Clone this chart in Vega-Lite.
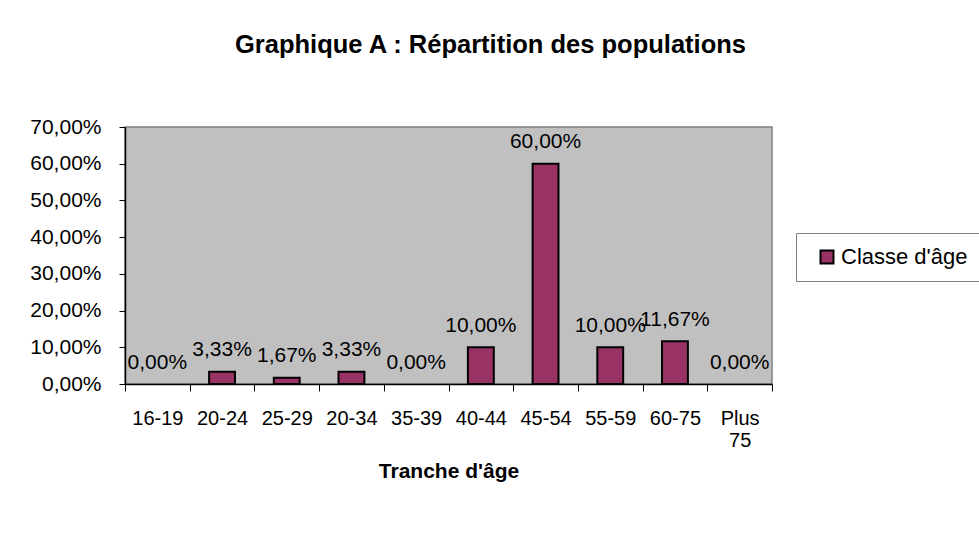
{
  "$schema": "https://vega.github.io/schema/vega-lite/v6.json",
  "width": 647,
  "height": 257,
  "autosize": {"type": "none"},
  "padding": {"left": 125, "top": 127, "right": 207, "bottom": 156},
  "background": "white",
  "config": {
    "locale": {"number": {"decimal": ",", "thousands": " ", "grouping": [3], "currency": ["", " €"]}},
    "font": "Liberation Sans",
    "view": {"fill": "#C0C0C0", "stroke": "#808080", "strokeWidth": 1.5}
  },
  "title": {
    "text": "Graphique A : Répartition des populations",
    "font": "Liberation Sans",
    "fontSize": 25.5,
    "fontWeight": "bold",
    "color": "black",
    "anchor": "middle",
    "frame": "group",
    "baseline": "alphabetic",
    "dx": 42,
    "offset": 38
  },
  "data": {
    "values": [
      {"tranche": "16-19", "value": 0},
      {"tranche": "20-24", "value": 0.0333},
      {"tranche": "25-29", "value": 0.0167},
      {"tranche": "20-34", "value": 0.0333},
      {"tranche": "35-39", "value": 0},
      {"tranche": "40-44", "value": 0.1},
      {"tranche": "45-54", "value": 0.6},
      {"tranche": "55-59", "value": 0.1},
      {"tranche": "60-75", "value": 0.1167},
      {"tranche": "Plus 75", "value": 0}
    ]
  },
  "encoding": {
    "x": {
      "field": "tranche",
      "type": "nominal",
      "sort": ["16-19", "20-24", "25-29", "20-34", "35-39", "40-44", "45-54", "55-59", "60-75", "Plus 75"],
      "scale": {
        "domain": ["16-19", "20-24", "25-29", "20-34", "35-39", "40-44", "45-54", "55-59", "60-75", "Plus 75"],
        "paddingInner": 0,
        "paddingOuter": 0
      },
      "axis": {
        "title": "Tranche d'âge",
        "titleFont": "Liberation Sans",
        "titleFontSize": 21,
        "titleFontWeight": "bold",
        "titleColor": "black",
        "titlePadding": 10,
        "labelAngle": 0,
        "labelFont": "Liberation Sans",
        "labelFontSize": 20,
        "labelColor": "black",
        "labelPadding": 17,
        "labelOverlap": false,
        "labelBound": false,
        "labelLineHeight": 22,
        "labelExpr": "datum.value == 'Plus 75' ? ['Plus', '75'] : datum.value",
        "tickBand": "extent",
        "tickSize": 7,
        "tickColor": "black",
        "domainColor": "black",
        "domainWidth": 1.5,
        "grid": false
      }
    },
    "y": {
      "field": "value",
      "type": "quantitative",
      "scale": {"domain": [0, 0.7], "nice": false},
      "axis": {
        "title": null,
        "format": ".2%",
        "values": [0, 0.1, 0.2, 0.3, 0.4, 0.5, 0.6, 0.7],
        "grid": false,
        "labelFont": "Liberation Sans",
        "labelFontSize": 21,
        "labelColor": "black",
        "labelPadding": 18,
        "tickSize": 6,
        "tickColor": "black",
        "domainColor": "black",
        "domainWidth": 1.5
      }
    }
  },
  "layer": [
    {
      "transform": [{"filter": "datum.value > 0"}],
      "mark": {"type": "bar", "width": {"band": 0.4}, "stroke": "black", "strokeWidth": 2, "opacity": 1},
      "encoding": {
        "color": {
          "datum": "Classe d'âge",
          "scale": {"range": ["#993366"]},
          "legend": {
            "title": null,
            "orient": "none",
            "legendX": 671,
            "legendY": 106,
            "strokeColor": "#808080",
            "fillColor": "white",
            "padding": 13,
            "symbolType": "square",
            "symbolSize": 169,
            "symbolStrokeColor": "black",
            "symbolStrokeWidth": 2,
            "symbolOpacity": 1,
            "symbolOffset": 7,
            "labelFont": "Liberation Sans",
            "labelFontSize": 22,
            "labelColor": "black",
            "labelOffset": 3
          }
        }
      }
    },
    {
      "mark": {"type": "text", "baseline": "alphabetic", "dy": -15.5, "fontSize": 21, "font": "Liberation Sans", "color": "black"},
      "encoding": {
        "text": {"field": "value", "type": "quantitative", "format": ".2%"}
      }
    }
  ]
}
